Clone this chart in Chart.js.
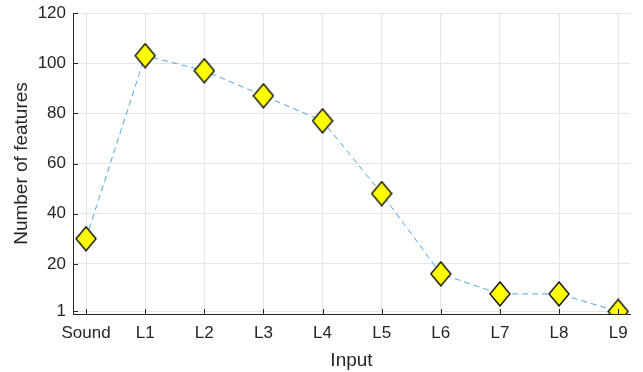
<!DOCTYPE html>
<html>
<head>
<meta charset="utf-8">
<script src="https://cdn.jsdelivr.net/npm/chart.js@4/dist/chart.umd.min.js"></script>
<style>
  html, body { margin: 0; padding: 0; background: #fff; }
  #wrap { width: 643px; height: 372px; }
</style>
</head>
<body>
<div id="wrap"><canvas id="mychart" width="643" height="372"></canvas></div>
<script>
// data
const categories = ["Sound", "L1", "L2", "L3", "L4", "L5", "L6", "L7", "L8", "L9"];
const featureCounts = [30, 103, 97, 87, 77, 48, 16, 8, 8, 1];
const yTicks = [1, 20, 40, 60, 80, 100, 120];

// yellow diamond marker, a bit taller than wide
function diamond(w, h) {
  const c = document.createElement("canvas");
  c.width = w + 2;
  c.height = h + 2;
  const g = c.getContext("2d");
  const cx = c.width / 2, cy = c.height / 2;
  g.beginPath();
  g.moveTo(cx, cy - h / 2);
  g.lineTo(cx + w / 2, cy);
  g.lineTo(cx, cy + h / 2);
  g.lineTo(cx - w / 2, cy);
  g.closePath();
  g.fillStyle = "#ffff00";
  g.fill();
  g.lineWidth = 1.3;
  g.strokeStyle = "#000000";
  g.stroke();
  return c;
}
const marker = diamond(20, 24);

// MATLAB-style inward tick marks
const innerTicks = {
  id: "innerTicks",
  afterDatasetsDraw(chart) {
    const { ctx, chartArea: a, scales } = chart;
    ctx.save();
    ctx.strokeStyle = "#262626";
    ctx.lineWidth = 1;
    ctx.beginPath();
    scales.x.ticks.forEach(t => {
      const px = Math.round(scales.x.getPixelForValue(t.value)) + 0.5;
      ctx.moveTo(px, a.bottom);
      ctx.lineTo(px, a.bottom - 5);
    });
    scales.y.ticks.forEach(t => {
      const py = Math.round(scales.y.getPixelForValue(t.value)) + 0.5;
      ctx.moveTo(a.left, py);
      ctx.lineTo(a.left + 5, py);
    });
    ctx.stroke();
    ctx.restore();
  }
};

const ctx = document.getElementById("mychart");

const data = {
  datasets: [
    {
      label: "Number of features",
      data: featureCounts.map((v, i) => ({ x: i + 1, y: v })),
      borderColor: "rgb(77, 168, 228)",
      borderWidth: 1,
      borderDash: [6, 4],
      pointStyle: marker,
      pointRadius: 12,
      pointHoverRadius: 12,
      fill: false,
      tension: 0,
    },
  ],
};

const fam = "'Liberation Sans', Arial, sans-serif";
const tickFont = { family: fam, size: 17 };
const titleFont = { family: fam, size: 19 };

const config = {
  type: "line",
  data: data,
  plugins: [innerTicks],
  options: {
    responsive: false,
    animation: false,
    layout: { padding: { left: 10, right: 8, top: 12, bottom: 0 } },
    plugins: {
      legend: { display: false },
      tooltip: { enabled: false },
    },
    scales: {
      x: {
        type: "linear",
        min: 0.78,
        max: 10.2,
        afterBuildTicks: s => { s.ticks = categories.map((c, i) => ({ value: i + 1 })); },
        afterFit: s => { s.height = 58; s.paddingLeft = 0; s.paddingRight = 0; },
        ticks: {
          color: "#262626",
          font: tickFont,
          padding: 9,
          maxRotation: 0,
          autoSkip: false,
          callback: v => categories[v - 1],
        },
        grid: { color: "#e6e6e6", tickLength: 0 },
        border: { color: "#262626", width: 1 },
        title: {
          display: true,
          text: "Input",
          color: "#262626",
          font: titleFont,
          padding: { top: 2, bottom: 0 },
        },
      },
      y: {
        min: 0,
        max: 120,
        afterBuildTicks: s => { s.ticks = yTicks.map(v => ({ value: v })); },
        afterFit: s => { s.width = 63; s.paddingTop = 0; s.paddingBottom = 0; },
        ticks: {
          color: "#262626",
          font: tickFont,
          padding: 7,
        },
        grid: { color: "#e6e6e6", tickLength: 0 },
        border: { color: "#262626", width: 1 },
        title: {
          display: true,
          text: "Number of features",
          color: "#262626",
          font: titleFont,
          padding: { top: 0, bottom: 4 },
        },
      },
    },
  },
};

new Chart(ctx, config);
</script>
</body>
</html>
